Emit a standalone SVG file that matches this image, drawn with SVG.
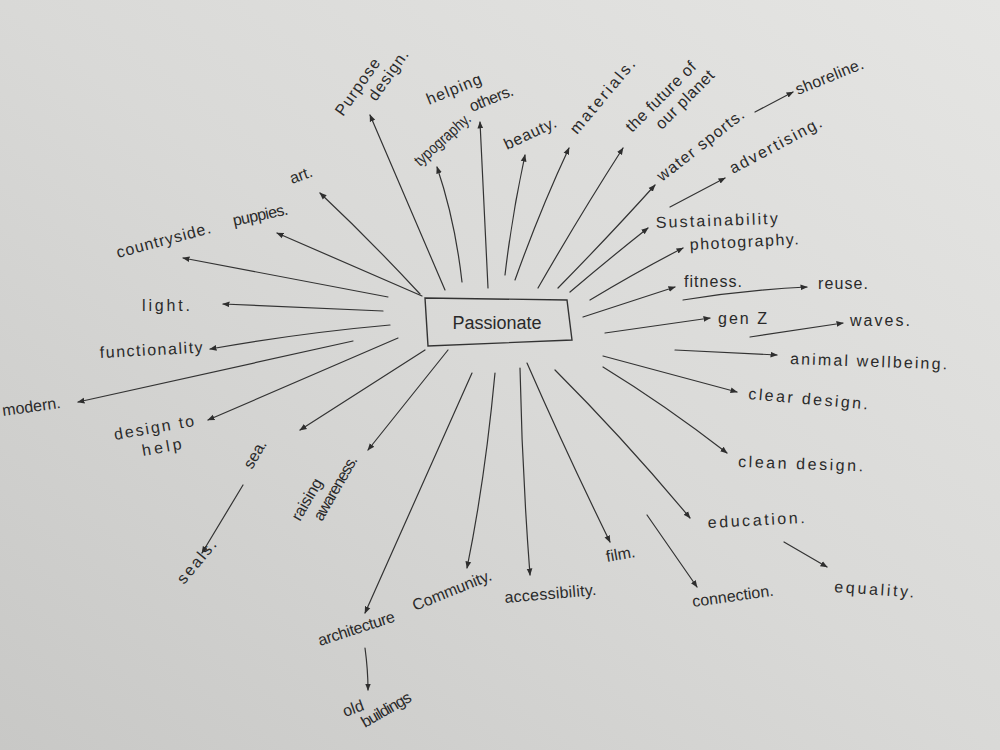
<svg xmlns="http://www.w3.org/2000/svg" width="1000" height="750" viewBox="0 0 1000 750">
<defs>
<linearGradient id="paper" x1="1" y1="0" x2="0" y2="1">
<stop offset="0" stop-color="#e5e5e3"/>
<stop offset="0.5" stop-color="#d9d9d7"/>
<stop offset="1" stop-color="#c8c8c6"/>
</linearGradient>
<marker id="ah" viewBox="0 0 10 10" refX="9" refY="5" markerWidth="6" markerHeight="6" orient="auto">
<path d="M0,1 L10,5 L0,9 z" fill="#2e2e2e"/>
</marker>
</defs>
<style>
.c{fill:none;stroke:#333;stroke-width:1.2;stroke-linecap:round;marker-end:url(#ah)}
text{font-family:"Liberation Sans","DejaVu Sans",sans-serif;font-size:16px;fill:#2a2a2a}
.big{font-size:18px}
</style>
<rect width="1000" height="750" fill="url(#paper)"/>
<g id="connectors">
<path class="c" d="M420,294 Q370,240 320,193"/>
<path class="c" d="M422,296 L277,233"/>
<path class="c" d="M388,297 L183,258"/>
<path class="c" d="M383,311 L223,304"/>
<path class="c" d="M390,325 Q300,333 210,349"/>
<path class="c" d="M353,341 L78,402"/>
<path class="c" d="M398,338 L208,420"/>
<path class="c" d="M425,350 L300,430"/>
<path class="c" d="M448,350 L368,450"/>
<path class="c" d="M472,373 Q420,490 365,613"/>
<path class="c" d="M495,373 Q485,480 467,568"/>
<path class="c" d="M520,368 Q522,470 530,575"/>
<path class="c" d="M527,363 Q565,450 610,542"/>
<path class="c" d="M555,370 Q625,440 690,518"/>
<path class="c" d="M603,367 Q665,405 727,453"/>
<path class="c" d="M603,356 L737,392"/>
<path class="c" d="M675,350 L777,355"/>
<path class="c" d="M605,333 L710,318"/>
<path class="c" d="M583,317 L675,287"/>
<path class="c" d="M590,300 Q640,270 683,248"/>
<path class="c" d="M570,292 Q610,258 648,228"/>
<path class="c" d="M558,288 Q610,235 655,185"/>
<path class="c" d="M538,288 Q580,215 623,148"/>
<path class="c" d="M515,280 Q540,210 569,148"/>
<path class="c" d="M505,275 Q512,215 525,155"/>
<path class="c" d="M488,288 Q484,200 480,122"/>
<path class="c" d="M462,282 Q455,220 437,167"/>
<path class="c" d="M445,290 L370,115"/>
<path class="c" d="M755,112 L793,92"/>
<path class="c" d="M670,207 L725,178"/>
<path class="c" d="M683,300 Q745,290 807,287"/>
<path class="c" d="M750,337 L843,323"/>
<path class="c" d="M243,485 L202,553"/>
<path class="c" d="M365,648 Q368,670 368,690"/>
<path class="c" d="M647,515 L697,587"/>
<path class="c" d="M784,542 L827,567"/>
</g>
<g id="passionate">
<path d="M425,298 L567,300 L572,340 L428,346 Z" fill="none" stroke="#333" stroke-width="1.4"/>
<text class="big" x="497" y="329" text-anchor="middle">Passionate</text>
</g>
<g id="art"><text x="292" y="184" transform="rotate(-20 292 184)">art.</text></g>
<g id="puppies"><text x="234" y="226" textLength="56" lengthAdjust="spacing" transform="rotate(-12 234 226)">puppies.</text></g>
<g id="countryside"><text x="118" y="258" textLength="97" lengthAdjust="spacing" transform="rotate(-15 118 258)">countryside.</text></g>
<g id="light"><text x="142" y="311" textLength="48" lengthAdjust="spacing">light.</text></g>
<g id="functionality"><text x="100" y="358" textLength="103" lengthAdjust="spacing" transform="rotate(-3 100 358)">functionality</text></g>
<g id="modern"><text x="3" y="416" font-size="15" transform="rotate(-8 3 416)">modern.</text></g>
<g id="design-to-help"><text x="115" y="440" textLength="81" lengthAdjust="spacing" transform="rotate(-10 115 440)">design to</text><text x="143" y="456" textLength="40" lengthAdjust="spacing" transform="rotate(-10 143 456)">help</text></g>
<g id="sea"><text x="252" y="470" transform="rotate(-60 252 470)">sea.</text></g>
<g id="raising-awareness"><g transform="translate(300,522) rotate(-60)"><text x="0" y="0" textLength="46" lengthAdjust="spacing">raising</text><text x="11" y="19" textLength="72" lengthAdjust="spacing">awareness.</text></g></g>
<g id="seals"><text x="184" y="585" textLength="52" lengthAdjust="spacing" transform="rotate(-50 184 585)">seals.</text></g>
<g id="architecture"><text x="320" y="646" textLength="80" lengthAdjust="spacing" transform="rotate(-18 320 646)">architecture</text></g>
<g id="community"><text x="415" y="611" textLength="84" lengthAdjust="spacing" transform="rotate(-22 415 611)">Community.</text></g>
<g id="old-buildings"><text x="345" y="717" transform="rotate(-20 345 717)">old</text><text x="365" y="728" textLength="55" lengthAdjust="spacing" transform="rotate(-30 365 728)">buildings</text></g>
<g id="accessibility"><text x="505" y="603" textLength="92" lengthAdjust="spacing" transform="rotate(-5 505 603)">accessibility.</text></g>
<g id="film"><text x="607" y="562" transform="rotate(-10 607 562)">film.</text></g>
<g id="connection"><text x="693" y="607" textLength="82" lengthAdjust="spacing" transform="rotate(-8 693 607)">connection.</text></g>
<g id="education"><text x="708" y="528" textLength="97" lengthAdjust="spacing" transform="rotate(-3 708 528)">education.</text></g>
<g id="equality"><text x="834" y="592" textLength="80" lengthAdjust="spacing" transform="rotate(4 834 592)">equality.</text></g>
<g id="clean-design"><text x="738" y="467" textLength="125" lengthAdjust="spacing" transform="rotate(2 738 467)">clean design.</text></g>
<g id="clear-design"><text x="748" y="399" textLength="120" lengthAdjust="spacing" transform="rotate(5 748 399)">clear design.</text></g>
<g id="animal-wellbeing"><text x="790" y="364" textLength="157" lengthAdjust="spacing" transform="rotate(2 790 364)">animal wellbeing.</text></g>
<g id="waves"><text x="850" y="326" textLength="60" lengthAdjust="spacing">waves.</text></g>
<g id="gen-z"><text x="718" y="324" textLength="49" lengthAdjust="spacing">gen Z</text></g>
<g id="reuse"><text x="818" y="289" textLength="50" lengthAdjust="spacing">reuse.</text></g>
<g id="fitness"><text x="684" y="287" textLength="58" lengthAdjust="spacing">fitness.</text></g>
<g id="photography"><text x="690" y="250" textLength="109" lengthAdjust="spacing" transform="rotate(-3 690 250)">photography.</text></g>
<g id="sustainability"><text x="656" y="228" textLength="122" lengthAdjust="spacing" transform="rotate(-2 656 228)">Sustainability</text></g>
<g id="advertising"><text x="733" y="174" textLength="102" lengthAdjust="spacing" transform="rotate(-28 733 174)">advertising.</text></g>
<g id="water-sports"><text x="662" y="182" textLength="106" lengthAdjust="spacing" transform="rotate(-38 662 182)">water sports.</text></g>
<g id="shoreline"><text x="798" y="95" font-size="13" textLength="72" lengthAdjust="spacing" transform="rotate(-22 798 95)">shoreline.</text></g>
<g id="future-planet"><g transform="translate(632,133) rotate(-45)"><text x="0" y="0" textLength="92" lengthAdjust="spacing">the future of</text><text x="23" y="19" textLength="76" lengthAdjust="spacing">our planet</text></g></g>
<g id="materials"><text x="577" y="135" textLength="92" lengthAdjust="spacing" transform="rotate(-50 577 135)">materials.</text></g>
<g id="beauty"><text x="507" y="150" textLength="56" lengthAdjust="spacing" transform="rotate(-25 507 150)">beauty.</text></g>
<g id="helping-others"><text x="429" y="105" textLength="58" lengthAdjust="spacing" transform="rotate(-22 429 105)">helping</text><text x="472" y="112" textLength="46" lengthAdjust="spacing" transform="rotate(-22 472 112)">others.</text></g>
<g id="typography"><text x="420" y="167" font-size="14" textLength="70" lengthAdjust="spacingAndGlyphs" transform="rotate(-42 420 167)">typography.</text></g>
<g id="purpose-design"><text x="343" y="117" textLength="66" lengthAdjust="spacing" transform="rotate(-55 343 117)">Purpose</text><text x="376" y="102" textLength="58" lengthAdjust="spacing" transform="rotate(-55 376 102)">design.</text></g>
</svg>
